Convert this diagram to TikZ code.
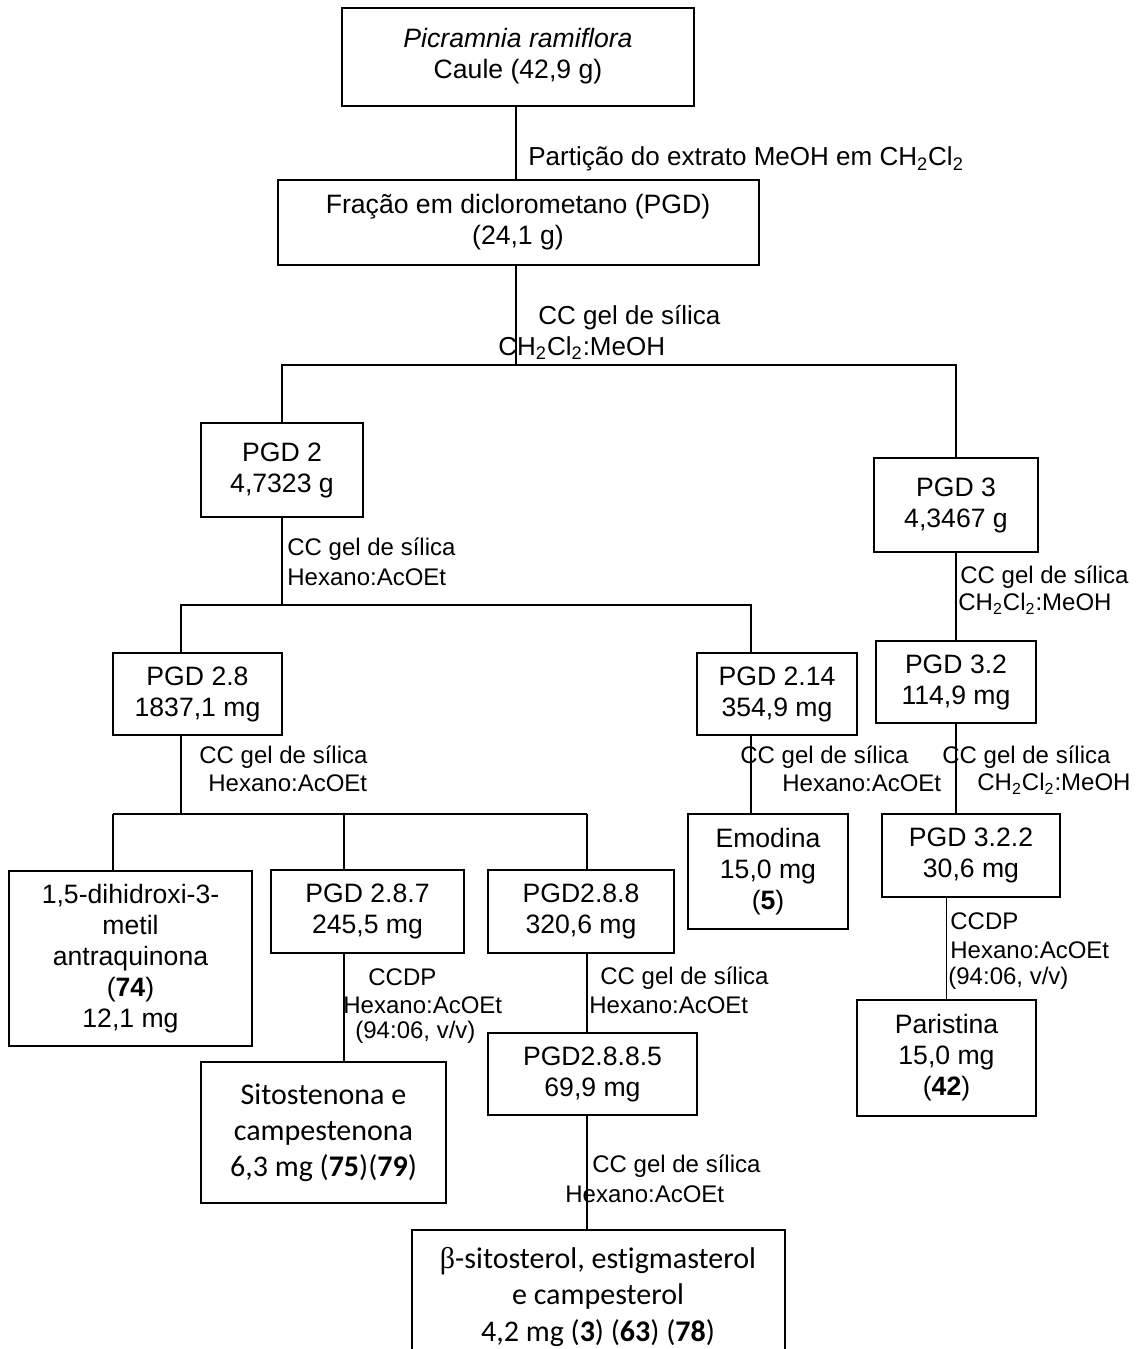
\documentclass[tikz,border=0pt]{standalone}
\usepackage{fontspec}
\setmainfont{Liberation Sans}
\newfontfamily\calib[Ligatures=NoCommon]{Carlito}
\newfontfamily\serif{Liberation Serif}
\usetikzlibrary{calc}
\tikzset{
  caixa/.style={draw, line width=1pt, align=center, inner sep=2pt, font=\fontsize{13.3}{15.5}\selectfont},
  caixac/.style={caixa, font=\calib\fontsize{15}{18}\selectfont},
  liga/.style={draw, line width=0.6pt},
  rot/.style={anchor=west, inner sep=0pt, font=\fontsize{12}{14}\selectfont},
  rotg/.style={rot, font=\fontsize{13}{14}\selectfont},
}
\newcommand{\dcm}{CH\textsubscript{2}Cl\textsubscript{2}}

\begin{document}
\begin{tikzpicture}[x=0.5pt,y=-0.5pt]
  \useasboundingbox (0,0) rectangle (1138,1349);

  % caixas
  \node[caixa, minimum width=176pt, minimum height=49pt] (top) at (518,57) {\textit{Picramnia ramiflora}\\Caule (42,9 g)\\[-11.5pt]\mbox{}};
  \node[caixa, minimum width=240.5pt, minimum height=42.5pt] (frac) at (518,222.5) {Fração em diclorometano (PGD)\\(24,1 g)};
  \node[caixa, minimum width=81pt, minimum height=47pt] (pgd2) at (282,470) {PGD 2\\4,7323 g};
  \node[caixa, minimum width=82pt, minimum height=47pt] (pgd3) at (956,505) {PGD 3\\4,3467 g};
  \node[caixa, minimum width=84.5pt, minimum height=41pt] (pgd28) at (197.5,694) {PGD 2.8\\1837,1 mg};
  \node[caixa, minimum width=80pt, minimum height=41pt] (pgd214) at (777,694) {PGD 2.14\\354,9 mg};
  \node[caixa, minimum width=80pt, minimum height=41pt] (pgd32) at (956,682) {PGD 3.2\\114,9 mg};
  \node[caixa, minimum width=121.5pt, minimum height=87.5pt] (dih) at (130.5,958.5) {1,5-dihidroxi-3-\\metil\\antraquinona\\(\textbf{74})\\12,1 mg};
  \node[caixa, minimum width=96.5pt, minimum height=41.5pt] (pgd287) at (367.5,911.5) {PGD 2.8.7\\245,5 mg};
  \node[caixa, minimum width=93pt, minimum height=41.5pt] (pgd288) at (581,911.5) {PGD2.8.8\\320,6 mg};
  \node[caixa, minimum width=80pt, minimum height=57.5pt] (emo) at (768,871.5) {Emodina\\15,0 mg\\(\textbf{5})};
  \node[caixa, minimum width=89pt, minimum height=41.5pt] (pgd322) at (971,855.5) {PGD 3.2.2\\30,6 mg};
  \node[caixa, minimum width=89.5pt, minimum height=58pt] (par) at (946.5,1058) {Paristina\\15,0 mg\\(\textbf{42})};
  \node[caixac, minimum width=122.5pt, minimum height=70.5pt] (sito) at (323.5,1132.5) {Sitostenona e\\campestenona\\6,3 mg (\textbf{75})(\textbf{79})};
  \node[caixa, minimum width=104.5pt, minimum height=41pt] (pgd2885) at (592.5,1074) {PGD2.8.8.5\\69,9 mg};
  \node[caixac, minimum width=186.5pt, minimum height=67.5pt] (fim) at (598,1297) {{\serif β}-sitosterol, estigmasterol\\e campesterol\\4,2 mg (\textbf{3}) (\textbf{63}) (\textbf{78})};

  % ligacoes
  \coordinate (j1) at (516,365);
  \coordinate (j2) at (282,605);
  \coordinate (b28) at (181,605);
  \coordinate (b214) at (751,605);
  \coordinate (j3) at (181,814);
  \coordinate (b3a) at (113,814);
  \coordinate (b3b) at (344,814);
  \coordinate (b3c) at (587,814);

  \draw[liga] (top.south -| j1) -- (frac.north -| j1);
  \draw[liga] (frac.south -| j1) -- (j1);
  \draw[liga] (pgd2) |- (j1) -| (pgd3);
  \draw[liga] (pgd2) -- (j2);
  \draw[liga] (pgd28.north -| b28) |- (b214) -- (b214 |- pgd214.north);
  \draw[liga] (b214 |- pgd214.south) -- (b214 |- emo.north);
  \draw[liga] (pgd3) -- (pgd32);
  \draw[liga] (pgd32.south) -- (pgd32.south |- pgd322.north);
  \draw[liga] (par) -- (par |- pgd322.south);
  \draw[liga] (pgd28.south -| j3) -- (j3);
  \draw[liga] (b3a) -- (b3c);
  \foreach \c/\n in {b3a/dih, b3b/pgd287, b3c/pgd288}
    \draw[liga] (\c) -- (\c |- \n.north);
  \draw[liga] (b3b |- pgd287.south) -- (b3b |- sito.north);
  \draw[liga] (b3c |- pgd288.south) -- (b3c |- pgd2885.north);
  \draw[liga] (b3c |- pgd2885.south) -- (b3c |- fim.north);

  % rotulos
  \node[rotg] (ep) at (528,159) {Partição do extrato MeOH em \dcm};
  \node[rotg] (e1a) at (538,318) {CC gel de sílica};
  \node[rotg] (e1b) at (498,348) {\dcm:MeOH};
  \node[rot] (e2a) at (287,549) {CC gel de sílica};
  \node[rot] (e2b) at (287,577) {Hexano:AcOEt};
  \node[rot] (e3a) at (960,577) {CC gel de sílica};
  \node[rot] (e3b) at (958,604) {\dcm:MeOH};
  \node[rot] (e28a) at (199,757) {CC gel de sílica};
  \node[rot] (e28b) at (208,783) {Hexano:AcOEt};
  \node[rot] (e214a) at (740,757) {CC gel de sílica};
  \node[rot] (e214b) at (782,783) {Hexano:AcOEt};
  \node[rot] (e32a) at (942,757) {CC gel de sílica};
  \node[rot] (e32b) at (977,784) {\dcm:MeOH};
  \node[rot] (e322a) at (950,921) {CCDP};
  \node[rot] (e322b) at (950,950) {Hexano:AcOEt};
  \node[rot] (e322c) at (948,978) {(94:06, v/v)};
  \node[rot] (e287a) at (368,977) {CCDP};
  \node[rot] (e287b) at (343,1005) {Hexano:AcOEt};
  \node[rot] (e287c) at (355,1032) {(94:06, v/v)};
  \node[rot] (e288a) at (600,978) {CC gel de sílica};
  \node[rot] (e288b) at (589,1005) {Hexano:AcOEt};
  \node[rot] (e2885a) at (592,1166) {CC gel de sílica};
  \node[rot] (e2885b) at (565,1194) {Hexano:AcOEt};
\end{tikzpicture}
\end{document}
